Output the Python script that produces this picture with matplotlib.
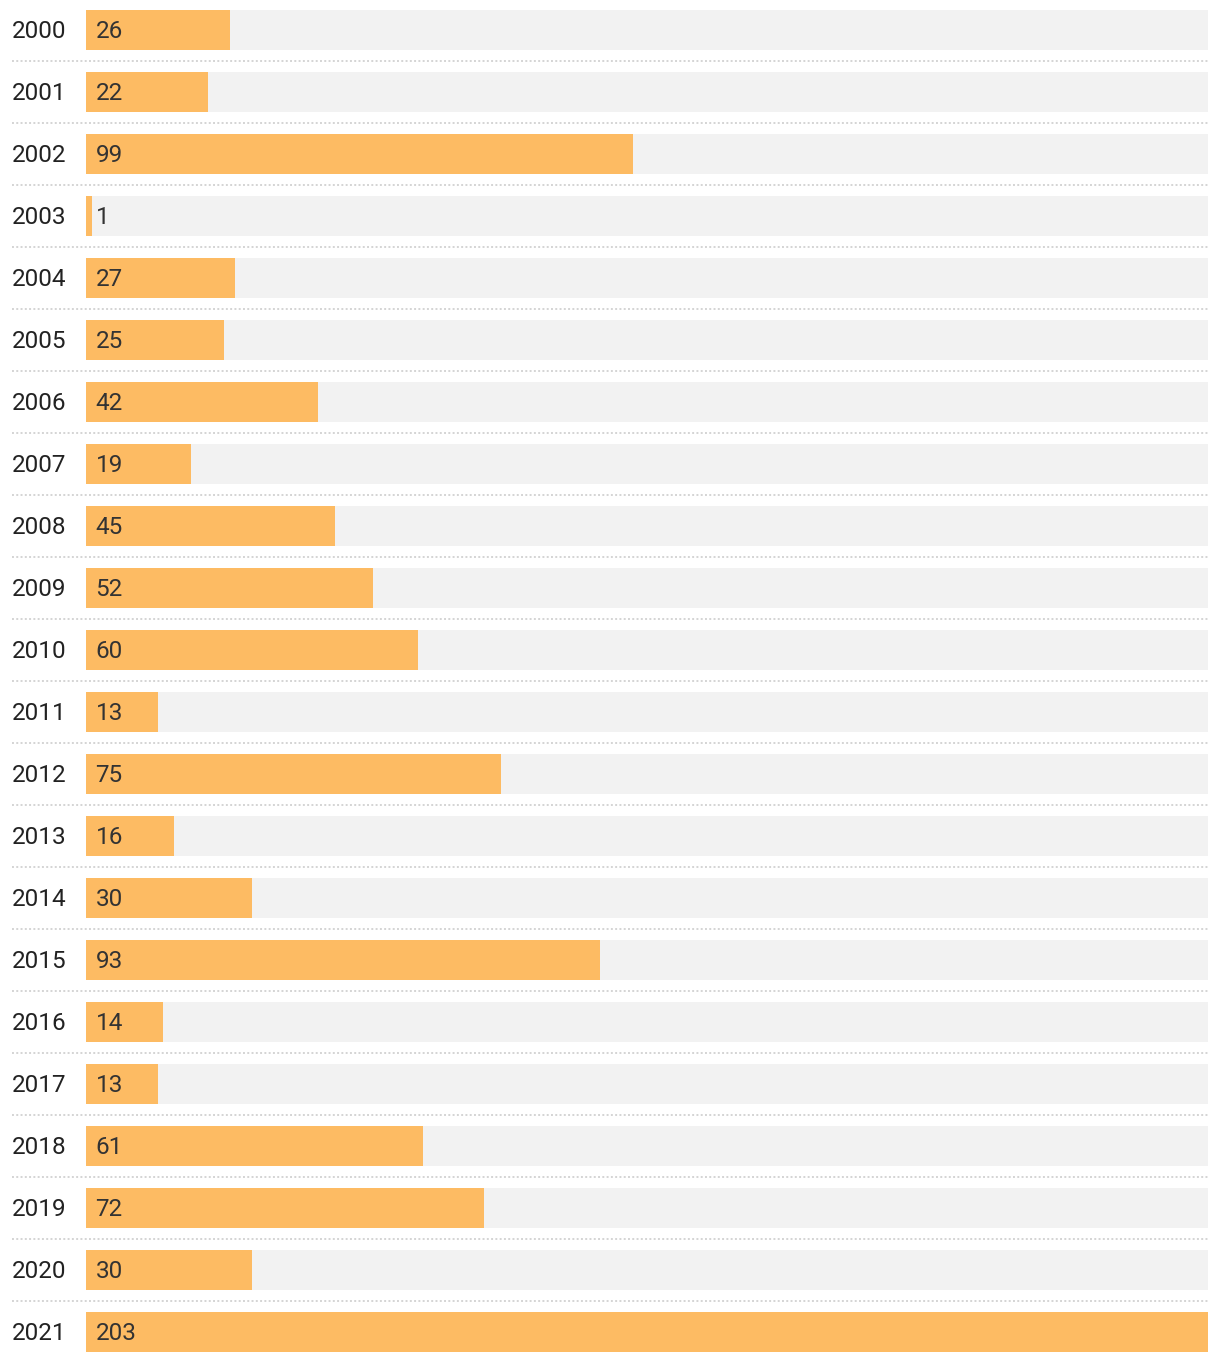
import matplotlib
matplotlib.use("Agg")
import matplotlib.pyplot as plt

plt.rcParams['font.family'] = ['Roboto', 'DejaVu Sans']

years = [str(y) for y in range(2000, 2022)]
values = [26, 22, 99, 1, 27, 25, 42, 19, 45, 52, 60, 13, 75, 16, 30, 93, 14, 13, 61, 72, 30, 203]

W, H = 1220, 1362
fig = plt.figure(figsize=(W / 100, H / 100), dpi=100)
# axes spans from bar start (86px) to right edge (1208px), full height
ax = fig.add_axes([86 / W, 0, (1208 - 86) / W, 1])
xmax = max(values)
ax.set_xlim(0, xmax)
ax.set_ylim(21.484, -0.484)
ax.axis('off')

n = len(years)
ypos = list(range(n))
bar_h = 40 / 62

ax.barh(ypos, [xmax] * n, height=bar_h, color='#f2f2f2', zorder=1)
ax.barh(ypos, values, height=bar_h, color='#fdbb63', zorder=2)

left_ext = -(86 - 12) / 1122 * xmax
for i in range(n - 1):
    ax.plot([left_ext, xmax], [i + 0.5, i + 0.5], color='#d4d4d4', lw=1.4,
            linestyle=(0, (1, 1.2)), clip_on=False, zorder=0)

dy = 0.03
for i, (yr, v) in enumerate(zip(years, values)):
    ax.text(left_ext, i + dy, yr, ha='left', va='center', fontsize=17.5,
            color='#222222', clip_on=False)
    ax.text(9.5 / 1122 * xmax, i + dy, str(v), ha='left', va='center',
            fontsize=17.5, color='#333333', zorder=3)

fig.savefig('out.png', dpi=100)
